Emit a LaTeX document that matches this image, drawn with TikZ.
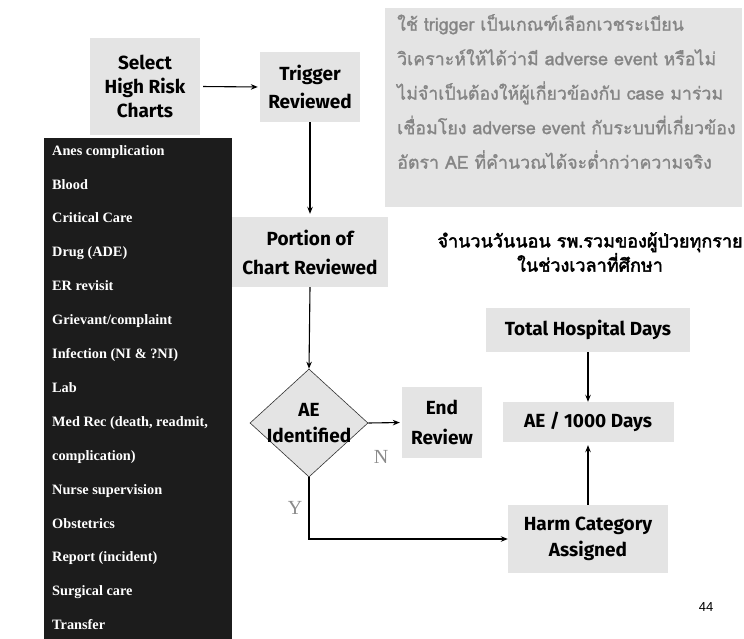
\documentclass[tikz,border=0pt]{standalone}
\usepackage{fontspec}
\usetikzlibrary{shapes.geometric,arrows.meta}
\setmainfont{Liberation Serif}
\newfontfamily\flowfont{Fira Sans}
\newfontfamily\thaifont[Script=Thai,FakeBold=1.2]{Loma}
\newfontfamily\thaiboldfont[Script=Thai,FakeBold=2.5]{Loma}
\newfontfamily\numfont{Liberation Sans}
\definecolor{boxgray}{HTML}{E4E4E4}
\definecolor{panelblack}{HTML}{1C1C1C}
\definecolor{notegray}{HTML}{858585}
\definecolor{ngray}{HTML}{8C8C8C}
\tikzset{
  flowbox/.style={fill=boxgray, inner sep=0pt, align=center, text=black,
    font=\flowfont\bfseries\fontsize{19}{26}\selectfont},
  arr/.style={-{Stealth[length=7pt,width=5.5pt]}, line width=1.1pt, black},
  yn/.style={text=ngray, font=\fontsize{20}{20}\selectfont, inner sep=0pt}
}
\begin{document}
\begin{tikzpicture}[x=1pt,y=-1pt]
\useasboundingbox (0,0) rectangle (744,639);
\fill[white] (0,0) rectangle (744,639);

% note box top right
\node[fill=boxgray, minimum width=357, minimum height=199, anchor=north west, inner sep=0pt] (note) at (385,8) {};
\node[anchor=north west, align=left, text=notegray, inner sep=0pt,
  font=\thaifont\fontsize{17.8}{34.5}\selectfont] (notetext) at (397,14)
  {ใช้ trigger เป็นเกณฑ์เลือกเวชระเบียน\\
   วิเคราะห์ให้ได้ว่ามี adverse event หรือไม่\\
   ไม่จำเป็นต้องให้ผู้เกี่ยวข้องกับ case มาร่วม\\
   เชื่อมโยง adverse event กับระบบที่เกี่ยวข้อง\\
   อัตรา AE ที่คำนวณได้จะต่ำกว่าความจริง};

% black panel with trigger list
\node[fill=panelblack, minimum width=188, minimum height=501, anchor=north west, inner sep=0pt] (panel) at (44,138) {};
\node[anchor=north west, align=left, text=white, inner sep=0pt,
  font=\bfseries\fontsize{14.3}{33.9}\selectfont] (list) at (52,145)
  {Anes complication\\ Blood\\ Critical Care\\ Drug (ADE)\\ ER revisit\\
   Grievant/complaint\\ Infection (NI \& ?NI)\\ Lab\\ Med Rec (death, readmit,\\
   complication)\\ Nurse supervision\\ Obstetrics\\ Report (incident)\\
   Surgical care\\ Transfer};

% flow boxes
\node[flowbox, minimum width=110, minimum height=97,
  font=\flowfont\bfseries\fontsize{19}{24}\selectfont] (sel) at (145,86.5) {Select\\High Risk\\Charts};
\node[flowbox, minimum width=100, minimum height=70,
  font=\flowfont\bfseries\fontsize{19}{28}\selectfont] (trig) at (310,87) {Trigger\\Reviewed};
\node[flowbox, minimum width=156, minimum height=70,
  font=\flowfont\bfseries\fontsize{19}{29}\selectfont] (port) at (310,252) {Portion of\\Chart Reviewed};
\node[diamond, draw=black!80, fill=boxgray, line width=0.6pt, minimum width=118, minimum height=108, inner sep=0pt] (dec) at (309,423) {};
\node[flowbox, fill=none] (dectext) at (dec.center) {AE\\Identified};
\node[flowbox, minimum width=80, minimum height=71,
  font=\flowfont\bfseries\fontsize{19}{30}\selectfont] (endr) at (442,422.5) {End\\Review};
\node[flowbox, minimum width=204, minimum height=44] (total) at (588,330) {Total Hospital Days};
\node[flowbox, minimum width=171, minimum height=40] (aepd) at (588,422) {AE / 1000 Days};
\node[flowbox, minimum width=160, minimum height=68] (harm) at (588,539) {Harm Category\\Assigned};

% caption
\node[align=center, inner sep=0pt, font=\thaiboldfont\fontsize{18}{21}\selectfont] (cap) at (590,252)
  {จำนวนวันนอน รพ.รวมของผู้ป่วยทุกราย\\ในช่วงเวลาที่ศึกษา};

% labels
\node[yn] (nlab) at (381,457) {N};
\node[yn] (ylab) at (295,508) {Y};
\node[inner sep=0pt, font=\numfont\fontsize{13}{13}\selectfont] (page) at (706,607) {44};

% connectors
\draw[arr, shorten <=3pt, shorten >=2pt] (sel.east) -- (trig.west);
\draw[arr, shorten >=3pt] (trig.south) -- (port.north);
\draw[arr] (port.south) -- (dec.north);
\draw[arr, shorten >=2pt] (dec.east) -- (endr.west);
\draw[arr] (dec.south) |- (harm.west);
\draw[arr, shorten >=3pt] (harm.north) -- (aepd.south);
\draw[arr] (total.south) -- (aepd.north);
\end{tikzpicture}
\end{document}
